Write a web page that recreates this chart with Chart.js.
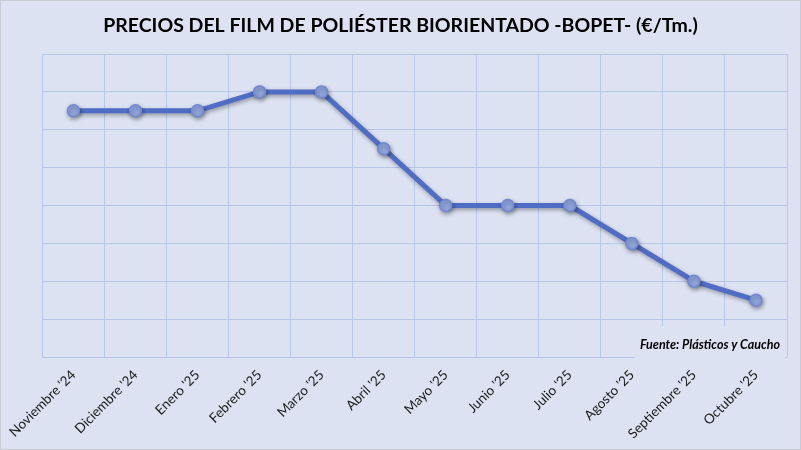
<!DOCTYPE html>
<html><head><meta charset="utf-8">
<script src="https://cdn.jsdelivr.net/npm/chart.js@4"></script>
<style>html,body{margin:0;padding:0;background:#dde2f3;}#wrap{width:801px;height:450px;}</style>
</head><body><div id="wrap"><canvas id="c" width="801" height="450"></canvas></div>
<script>
const categories = ["Noviembre '24","Diciembre '24","Enero '25","Febrero '25","Marzo '25","Abril '25","Mayo '25","Junio '25","Julio '25","Agosto '25","Septiembre '25","Octubre '25"];
const prices = [6.5, 6.5, 6.5, 7, 7, 5.5, 4, 4, 4, 3, 2, 1.5];
const yMin = 0, yMax = 8, yStep = 1;
const titleText = "PRECIOS DEL FILM DE POLIÉSTER BIORIENTADO -BOPET- (€/Tm.)";
const sourceText = "Fuente: Plásticos y Caucho";

const deco = {
  id: 'deco',
  beforeDraw(chart) {
    const ctx = chart.ctx;
    ctx.save();
    ctx.fillStyle = '#dde2f3';
    ctx.fillRect(0, 0, chart.width, chart.height);
    ctx.strokeStyle = '#c8cbd3';
    ctx.lineWidth = 1;
    ctx.strokeRect(0.5, 0.5, chart.width - 1, chart.height - 1);
    ctx.font = 'bold 19.5px Lato';
    ctx.fillStyle = '#000';
    ctx.textAlign = 'center';
    ctx.textBaseline = 'middle';
    ctx.fillText(titleText, chart.width / 2, 26);
    ctx.restore();
  },
  beforeDatasetsDraw(chart) {
    const ctx = chart.ctx, a = chart.chartArea;
    ctx.save();
    ctx.fillStyle = '#dde2f3';
    ctx.fillRect(a.right - 152, a.bottom - 31, 150, 34);
    ctx.font = 'italic bold 12.5px Lato';
    ctx.fillStyle = '#000';
    ctx.textAlign = 'right';
    ctx.textBaseline = 'middle';
    ctx.fillText(sourceText, a.right - 7, a.bottom - 12);
    ctx.restore();
    ctx.save();
    ctx.shadowColor = 'rgba(0,0,0,0.35)';
    ctx.shadowBlur = 4;
    ctx.shadowOffsetX = 1;
    ctx.shadowOffsetY = 2;
  },
  afterDatasetsDraw(chart) {
    chart.ctx.restore();
  }
};

new Chart(document.getElementById('c'), {
  type: 'line',
  data: {
    labels: categories,
    datasets: [{
      data: prices,
      borderColor: '#4f6dc5',
      borderWidth: 5,
      pointBackgroundColor: '#8fa5dd',
      pointBorderColor: '#6f89d0',
      pointBorderWidth: 1.5,
      pointRadius: 6,
      tension: 0
    }]
  },
  options: {
    responsive: false,
    animation: false,
    devicePixelRatio: 1,
    layout: { padding: { left: 42, right: 14, top: 54, bottom: 0 } },
    plugins: {
      legend: { display: false },
      tooltip: { enabled: false },
      title: { display: false }
    },
    scales: {
      x: {
        offset: true,
        grid: { offset: true, color: '#b7c7ea', lineWidth: 1, drawTicks: false },
        border: { display: false },
        ticks: { minRotation: 45, maxRotation: 45, autoSkip: false, color: '#1a1a1a', padding: 10, font: { family: 'Lato', size: 13.5 } },
        afterFit(s) { s.height = 93; }
      },
      y: {
        min: yMin, max: yMax,
        grid: { color: '#b7c7ea', lineWidth: 1, drawTicks: false },
        border: { display: false },
        ticks: { display: false, stepSize: yStep },
        afterFit(s) { s.width = 0; }
      }
    }
  },
  plugins: [deco]
});
</script></body></html>
